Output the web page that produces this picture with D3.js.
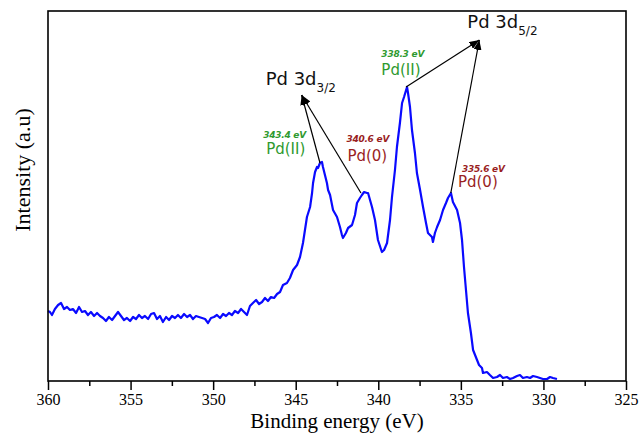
<!DOCTYPE html>
<html>
<head>
<meta charset="utf-8">
<script src="https://cdn.jsdelivr.net/npm/d3@7"></script>
<style>
  body { margin: 0; background: #fff; }
  svg { display: block; }
  .tick text { font-family: "Liberation Serif", "Times New Roman", serif; }
</style>
</head>
<body>
<div id="chart"></div>
<script>
// binding energy (eV) and intensity (a.u.)
const energy = [
  360.00, 359.88, 359.76, 359.58, 359.39, 359.21, 359.03, 358.85, 358.67, 358.49,
  358.30, 358.12, 357.94, 357.76, 357.58, 357.40, 357.21, 357.03, 356.85, 356.67,
  356.49, 356.31, 356.12, 355.94, 355.76, 355.58, 355.40, 355.22, 355.03, 354.85,
  354.67, 354.49, 354.31, 354.13, 353.94, 353.76, 353.58, 353.40, 353.22, 353.04,
  352.85, 352.67, 352.49, 352.31, 352.13, 351.95, 351.76, 351.58, 351.40, 351.22,
  351.04, 350.86, 350.67, 350.49, 350.31, 350.13, 349.95, 349.77, 349.58, 349.40,
  349.22, 349.04, 348.86, 348.68, 348.49, 348.31, 348.13, 347.95, 347.77, 347.59,
  347.40, 347.22, 347.04, 346.86, 346.68, 346.50, 346.31, 346.13, 345.95, 345.77,
  345.53, 345.35, 345.16, 344.92, 344.74, 344.56, 344.44, 344.32, 344.13, 344.01,
  343.95, 343.83, 343.71, 343.65, 343.53, 343.41, 343.35, 343.23, 343.11, 343.04,
  342.92, 342.74, 342.50, 342.32, 342.20, 342.14, 341.96, 341.83, 341.59, 341.41,
  341.29, 341.11, 340.99, 340.86, 340.68, 340.62, 340.38, 340.20, 340.02, 339.78,
  339.65, 339.47, 339.29, 339.17, 338.99, 338.87, 338.69, 338.56, 338.44, 338.26,
  338.20, 338.08, 337.96, 337.78, 337.66, 337.47, 337.29, 337.11, 336.99, 336.75,
  336.69, 336.57, 336.44, 336.26, 336.08, 335.90, 335.78, 335.60, 335.48, 335.23,
  335.05, 334.93, 334.81, 334.69, 334.57, 334.39, 334.26, 334.02, 333.90, 333.72,
  333.66, 333.42, 333.24, 333.05, 332.81, 332.63, 332.45, 332.21, 332.02, 331.84,
  331.60, 331.42, 331.24, 331.00, 330.81, 330.63, 330.39, 330.21, 330.03, 329.78,
  329.60, 329.42, 329.18
];
const intensity = [
  700, 690, 660, 720, 760, 780, 720, 740, 710, 720,
  680, 740, 690, 700, 660, 690, 650, 680, 650, 630,
  600, 640, 610, 650, 690, 650, 610, 630, 600, 640,
  620, 660, 630, 650, 620, 670, 680, 620, 650, 590,
  640, 610, 650, 630, 660, 630, 670, 640, 660, 620,
  650, 640, 630, 620, 580, 630, 640, 660, 630, 670,
  650, 680, 660, 700, 680, 720, 690, 660, 750, 780,
  810, 770, 790, 830, 800, 840, 830, 870, 890, 960,
  980, 1030, 1110, 1160, 1240, 1380, 1510, 1640, 1740, 1880,
  1980, 2090, 2140, 2130, 2180, 2190, 2140, 2060, 1980, 1910,
  1860, 1710, 1640, 1540, 1460, 1430, 1480, 1530, 1560, 1660,
  1780, 1830, 1860, 1890, 1880, 1880, 1740, 1610, 1410, 1290,
  1310, 1380, 1610, 1840, 2110, 2340, 2580, 2780, 2840, 2940,
  2880, 2740, 2510, 2280, 2080, 1910, 1740, 1580, 1480, 1440,
  1390, 1480, 1540, 1610, 1710, 1780, 1830, 1880, 1790, 1710,
  1580, 1410, 1140, 910, 680, 480, 310, 210, 160, 130,
  80, 90, 60, 30, 40, 60, 30, 40, 20, 30,
  50, 60, 30, 40, 30, 50, 40, 30, 20, 20,
  40, 30, 20
];

const xTicks = [360, 355, 350, 345, 340, 335, 330, 325];
const xMinorTicks = [357.5, 352.5, 347.5, 342.5, 337.5, 332.5, 327.5];

// peak annotations
const peakLabels = ["343.4 eV", "340.6 eV", "338.3 eV", "335.6 eV"];
const peakStates = ["Pd(II)", "Pd(0)", "Pd(II)", "Pd(0)"];
const peakEnergy = [343.4, 340.6, 338.3, 335.6];
const peakIntensity = [2190, 1880, 2940, 1880];
const arrowEndEnergy = [343.53, 341.05, 338.32, 335.61];
const arrowEndIntensity = [2180, 1880, 2940, 1880];
const groupNames = ["3/2", "3/2", "5/2", "5/2"];
const groupTipEnergy = { "3/2": 344.64, "5/2": 333.88 };
const groupTipIntensity = { "3/2": 2860, "5/2": 3410 };

const width = 640, height = 433;
const margin = { left: 48, right: 14, top: 11, bottom: 52 };

const svg = d3.select('#chart').append('svg')
  .attr('width', width)
  .attr('height', height);

svg.append('rect').attr('width', width).attr('height', height).attr('fill', '#fff');

const x = d3.scaleLinear()
  .domain([360, 325])
  .range([margin.left, width - margin.right]);
const y = d3.scaleLinear()
  .domain([0, 3700])
  .range([height - margin.bottom, margin.top]);

const defs = svg.append('defs');
defs.append('marker')
  .attr('id', 'arrow')
  .attr('markerUnits', 'userSpaceOnUse')
  .attr('viewBox', '0 0 10 8')
  .attr('refX', 10).attr('refY', 4)
  .attr('markerWidth', 10).attr('markerHeight', 8)
  .attr('orient', 'auto')
  .append('path')
  .attr('d', 'M0,0 L10,4 L0,8 Z')
  .attr('fill', '#000');

// spectrum
const pts = energy.map((e, i) => [e, intensity[i]]);
svg.append('path')
  .datum(pts)
  .attr('fill', 'none')
  .attr('stroke', '#0a0aff')
  .attr('stroke-width', 2.2)
  .attr('stroke-linejoin', 'round')
  .attr('d', d3.line().x(d => x(d[0])).y(d => y(d[1])));

// bottom axis with minor ticks
const axisY = height - margin.bottom;
svg.append('g')
  .attr('transform', `translate(0,${axisY})`)
  .call(d3.axisBottom(x).tickValues(xMinorTicks).tickSize(5).tickFormat(''))
  .call(g => g.select('.domain').remove())
  .selectAll('line').attr('stroke-width', 1.5);

const xAxis = svg.append('g')
  .attr('transform', `translate(0,${axisY})`)
  .call(d3.axisBottom(x).tickValues(xTicks).tickSize(9).tickPadding(4).tickFormat(d3.format('d')));
xAxis.select('.domain').remove();
xAxis.selectAll('line').attr('stroke-width', 1.5);
xAxis.selectAll('text').attr('font-size', 16).attr('fill', '#000');

// frame
svg.append('rect')
  .attr('x', margin.left).attr('y', margin.top)
  .attr('width', width - margin.left - margin.right)
  .attr('height', height - margin.top - margin.bottom)
  .attr('fill', 'none')
  .attr('stroke', '#000')
  .attr('stroke-width', 1.6);

// axis titles
svg.append('text')
  .attr('x', (margin.left + width - margin.right) / 2)
  .attr('y', 428)
  .attr('text-anchor', 'middle')
  .attr('font-family', '"Liberation Serif", serif')
  .attr('font-size', 21)
  .text('Binding energy (eV)');

svg.append('text')
  .attr('transform', `translate(30,${(margin.top + axisY) / 2 - 26}) rotate(-90)`)
  .attr('text-anchor', 'middle')
  .attr('font-family', '"Liberation Serif", serif')
  .attr('font-size', 22)
  .text('Intensity (a.u)');

// arrows from peaks to group labels
peakEnergy.forEach((e, i) => {
  const g = groupNames[i];
  svg.append('line')
    .attr('x1', x(arrowEndEnergy[i])).attr('y1', y(arrowEndIntensity[i]))
    .attr('x2', x(groupTipEnergy[g])).attr('y2', y(groupTipIntensity[g]))
    .attr('stroke', '#000')
    .attr('stroke-width', 1.2)
    .attr('marker-end', 'url(#arrow)');
});

// group labels Pd 3d
const groupLabelOffset = { "3/2": [-36, -10], "5/2": [-12, -12] };
Object.keys(groupTipEnergy).forEach(g => {
  const t = svg.append('text')
    .attr('x', x(groupTipEnergy[g]) + groupLabelOffset[g][0])
    .attr('y', y(groupTipIntensity[g]) + groupLabelOffset[g][1])
    .attr('font-family', '"DejaVu Sans", Verdana, sans-serif')
    .attr('font-size', 18)
    .attr('fill', '#111');
  t.append('tspan').text('Pd 3d');
  t.append('tspan').attr('font-size', 12).attr('dy', 7).text(g);
});

// peak labels
const stateColor = s => s === 'Pd(II)' ? '#2f9a2f' : '#9a1f1f';
const labelOffset = [[-59, -24, -56, -8], [-22, -51, -21, -32], [-25, -30, -25, -12], [11, -21, 7, -6]];
peakEnergy.forEach((e, i) => {
  const px = x(e), py = y(peakIntensity[i]);
  const o = labelOffset[i];
  svg.append('text')
    .attr('x', px + o[0]).attr('y', py + o[1])
    .attr('font-family', '"DejaVu Sans", Verdana, sans-serif')
    .attr('font-size', 9)
    .attr('font-style', 'italic')
    .attr('font-weight', 'bold')
    .attr('textLength', 43)
    .attr('fill', stateColor(peakStates[i]))
    .text(peakLabels[i]);
  svg.append('text')
    .attr('x', px + o[2]).attr('y', py + o[3])
    .attr('font-family', '"DejaVu Sans", Verdana, sans-serif')
    .attr('font-size', 15)
    .attr('fill', stateColor(peakStates[i]))
    .text(peakStates[i]);
});
</script>
</body>
</html>
